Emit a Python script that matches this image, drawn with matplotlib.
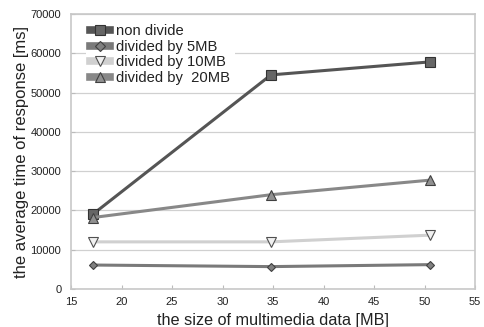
import matplotlib
matplotlib.use("Agg")
import matplotlib.pyplot as plt
from matplotlib.lines import Line2D

plt.rcParams['font.family'] = ['Liberation Sans', 'DejaVu Sans']

sizes_mb = [17.2, 34.8, 50.5]
non_divide = [19100, 54500, 57800]
div_5mb = [6100, 5700, 6200]
div_10mb = [12000, 12000, 13700]
div_20mb = [18200, 24000, 27700]

labels = ['non divide', 'divided by 5MB', 'divided by 10MB', 'divided by  20MB']
x_ticks = [15, 20, 25, 30, 35, 40, 45, 50, 55]
y_ticks = [0, 10000, 20000, 30000, 40000, 50000, 60000, 70000]

fig = plt.figure(figsize=(4.85, 3.27), dpi=100)
ax = fig.add_axes([71/485, 1-289/327, (475-71)/485, (289-14)/327])

styles = [
    (non_divide, '#555555', 's', '#666666', '#333333', 6.5, 2.2),
    (div_5mb, '#7a7a7a', 'D', '#808080', '#404040', 4.5, 2.2),
    (div_10mb, '#d0d0d0', 'v', '#f0f0f0', '#505050', 6.5, 2.2),
    (div_20mb, '#888888', '^', '#909090', '#404040', 6.5, 2.2),
]
handles = []
for (vals, lc, m, mfc, mec, ms, lw), lab in zip(styles, labels):
    ax.plot(sizes_mb, vals, color=lc, lw=lw, marker=m, markersize=ms,
            markerfacecolor=mfc, markeredgecolor=mec, markeredgewidth=0.8, zorder=3)
    handles.append(Line2D([], [], color=lc, lw=5.5, marker=m, markersize=ms + 1,
                          markerfacecolor=mfc, markeredgecolor=mec, markeredgewidth=0.8))

ax.set_xlim(15, 55)
ax.set_ylim(0, 70000)
ax.set_xticks(x_ticks)
ax.set_yticks(y_ticks)
ax.tick_params(labelsize=8, colors='#bbbbbb', labelcolor='#222222', length=3,
               direction='in')
ax.tick_params(axis='x', pad=6)
ax.tick_params(axis='y', pad=7)
ax.yaxis.grid(True, color='#d0d0d0', lw=0.9)
ax.set_axisbelow(True)
for s in ax.spines.values():
    s.set_color('#c8c8c8')
    s.set_linewidth(1.2)

ax.set_xlabel('the size of multimedia data [MB]', fontsize=11.7, color='#222222')
ax.set_ylabel('the average time of response [ms]', fontsize=12, color='#222222')
ax.xaxis.set_label_coords(0.5, (289 - 320) / 275)
ax.xaxis.label.set_va('center')
ax.yaxis.set_label_coords((22 - 71) / 404, 0.5)
ax.yaxis.label.set_va('center')

leg = ax.legend(handles=handles, labels=labels, loc='upper left', fontsize=10.6,
                frameon=True, facecolor='white', edgecolor='none', framealpha=1,
                handlelength=1.3, handletextpad=0.45, labelspacing=0.1,
                borderaxespad=0, borderpad=0.3,
                bbox_to_anchor=((86 - 71) / 404, 1 - 6 / 275))
for t in leg.get_texts():
    t.set_color('#222222')

fig.savefig('out.png', dpi=100)
